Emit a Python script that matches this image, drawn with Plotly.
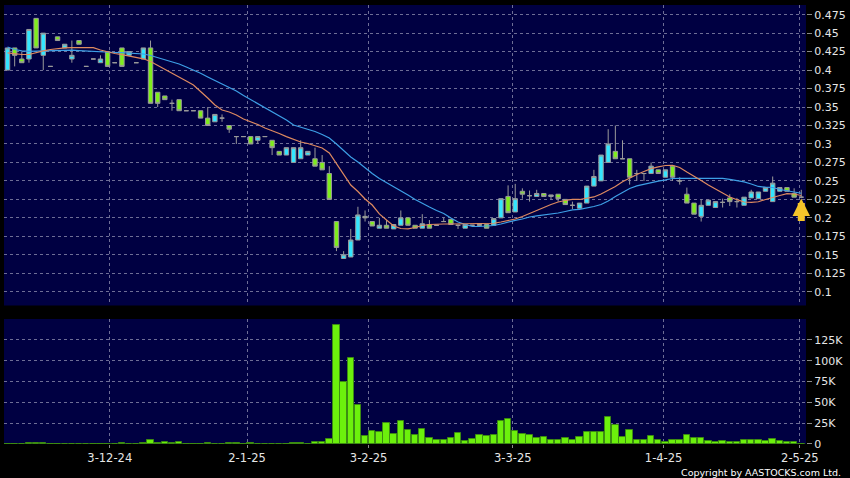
import plotly.graph_objects as go

# ---------------- data ----------------
opens = [0.40, 0.43, 0.415, 0.415, 0.47, 0.42, 0.405, 0.445, 0.43, 0.415,
         0.44, 0.405, 0.415, 0.41, 0.425, 0.41, 0.43, 0.42, 0.41, 0.415,
         0.43, 0.37, 0.365, 0.355, 0.36, 0.345, 0.345, 0.345, 0.335, 0.33,
         0.335, 0.325, 0.31, 0.31, 0.31, 0.305, 0.31, 0.305, 0.29, 0.285,
         0.275, 0.28, 0.285, 0.28, 0.275, 0.26, 0.195, 0.145, 0.147, 0.17,
         0.202, 0.195, 0.186, 0.19, 0.185, 0.19, 0.2, 0.19, 0.186, 0.191,
         0.19, 0.195, 0.198, 0.19, 0.186, 0.19, 0.191, 0.191, 0.19, 0.2,
         0.229, 0.208, 0.236, 0.23, 0.229, 0.233, 0.229, 0.232, 0.225, 0.217,
         0.213, 0.22, 0.243, 0.25, 0.275, 0.29, 0.28, 0.28, 0.26, 0.26,
         0.26, 0.265, 0.255, 0.27, 0.25, 0.232, 0.22, 0.202, 0.217, 0.214,
         0.221, 0.227, 0.222, 0.217, 0.227, 0.226, 0.236, 0.222, 0.236, 0.241,
         0.233, 0.228]
highs = [0.43, 0.43, 0.425, 0.455, 0.47, 0.45, 0.405, 0.445, 0.435, 0.44,
         0.44, 0.405, 0.415, 0.42, 0.425, 0.41, 0.43, 0.425, 0.41, 0.43,
         0.44, 0.37, 0.365, 0.36, 0.36, 0.345, 0.345, 0.345, 0.35, 0.34,
         0.34, 0.325, 0.31, 0.31, 0.31, 0.31, 0.31, 0.305, 0.29, 0.295,
         0.295, 0.305, 0.29, 0.295, 0.285, 0.27, 0.195, 0.155, 0.185, 0.215,
         0.21, 0.195, 0.2, 0.197, 0.191, 0.21, 0.2, 0.19, 0.205, 0.197,
         0.19, 0.2, 0.198, 0.19, 0.191, 0.19, 0.191, 0.191, 0.199, 0.226,
         0.244, 0.246, 0.24, 0.237, 0.238, 0.233, 0.231, 0.232, 0.225, 0.222,
         0.22, 0.243, 0.265, 0.285, 0.32, 0.325, 0.305, 0.28, 0.265, 0.26,
         0.275, 0.265, 0.265, 0.27, 0.255, 0.241, 0.22, 0.225, 0.224, 0.222,
         0.226, 0.232, 0.227, 0.228, 0.238, 0.235, 0.241, 0.256, 0.241, 0.241,
         0.24, 0.238]
lows = [0.40, 0.405, 0.41, 0.41, 0.43, 0.40, 0.405, 0.44, 0.43, 0.41,
        0.435, 0.405, 0.415, 0.41, 0.405, 0.41, 0.405, 0.42, 0.41, 0.415,
        0.355, 0.35, 0.36, 0.345, 0.345, 0.345, 0.345, 0.335, 0.325, 0.33,
        0.33, 0.315, 0.30, 0.31, 0.30, 0.30, 0.31, 0.285, 0.285, 0.285,
        0.275, 0.28, 0.285, 0.27, 0.265, 0.225, 0.155, 0.145, 0.147, 0.17,
        0.195, 0.189, 0.186, 0.186, 0.185, 0.19, 0.19, 0.186, 0.186, 0.186,
        0.19, 0.195, 0.191, 0.185, 0.186, 0.19, 0.19, 0.186, 0.19, 0.2,
        0.207, 0.208, 0.226, 0.222, 0.229, 0.229, 0.225, 0.222, 0.218, 0.212,
        0.213, 0.22, 0.243, 0.25, 0.275, 0.28, 0.28, 0.245, 0.25, 0.25,
        0.26, 0.26, 0.255, 0.25, 0.245, 0.22, 0.205, 0.195, 0.217, 0.214,
        0.214, 0.216, 0.214, 0.217, 0.227, 0.226, 0.236, 0.222, 0.236, 0.236,
        0.228, 0.228]
closes = [0.43, 0.42, 0.41, 0.455, 0.43, 0.45, 0.405, 0.44, 0.435, 0.42,
          0.435, 0.405, 0.415, 0.415, 0.405, 0.41, 0.405, 0.425, 0.41, 0.43,
          0.355, 0.355, 0.36, 0.355, 0.345, 0.345, 0.345, 0.335, 0.325, 0.34,
          0.335, 0.32, 0.31, 0.31, 0.30, 0.31, 0.31, 0.295, 0.285, 0.295,
          0.295, 0.295, 0.29, 0.27, 0.265, 0.225, 0.16, 0.15, 0.17, 0.204,
          0.2, 0.189, 0.19, 0.186, 0.191, 0.2, 0.19, 0.186, 0.192, 0.186,
          0.19, 0.195, 0.191, 0.19, 0.191, 0.19, 0.19, 0.186, 0.199, 0.226,
          0.207, 0.226, 0.232, 0.23, 0.233, 0.229, 0.231, 0.226, 0.218, 0.217,
          0.22, 0.243, 0.256, 0.285, 0.30, 0.28, 0.28, 0.255, 0.26, 0.26,
          0.27, 0.26, 0.265, 0.255, 0.25, 0.22, 0.205, 0.217, 0.224, 0.222,
          0.221, 0.222, 0.222, 0.228, 0.235, 0.235, 0.241, 0.247, 0.241, 0.236,
          0.228, 0.228]
volumes = [300, 500, 300, 800, 600, 800, 0, 300, 300, 500,
           300, 0, 0, 300, 500, 0, 1000, 300, 0, 600,
           5300, 1200, 2000, 600, 1800, 0, 0, 500, 600, 400,
           300, 1500, 1500, 300, 800, 500, 300, 500, 500, 500,
           800, 600, 400, 2000, 2500, 6000, 143000, 74000, 103000, 46600,
           10000, 15300, 14000, 25000, 12500, 27400, 17300, 11300, 17700, 7700,
           5300, 5000, 6900, 13700, 3300, 5700, 11300, 10100, 10500, 27400,
           29400, 15700, 11700, 10900, 7700, 8400, 5000, 5300, 6900, 5300,
           8400, 14900, 14900, 14500, 31800, 23000, 8400, 16900, 5300, 4600,
           9300, 4600, 2300, 5300, 4200, 11300, 6900, 6900, 3700, 2300,
           3300, 2600, 2300, 4200, 4200, 4200, 3000, 5700, 3700, 2600,
           2600, 0]
ma_fast = [0.4232, 0.4218, 0.4211, 0.4211, 0.4238, 0.4259, 0.4279, 0.4295, 0.4302, 0.4303,
           0.4303, 0.4303, 0.4303, 0.4272, 0.4245, 0.4225, 0.4210, 0.4191, 0.4171, 0.4153,
           0.4117, 0.4062, 0.4012, 0.3961, 0.3907, 0.3853, 0.3799, 0.3717, 0.3623, 0.3528,
           0.3460, 0.3433, 0.3393, 0.3338, 0.3305, 0.3264, 0.3217, 0.3183, 0.3142, 0.3099,
           0.3061, 0.3027, 0.3007, 0.2980, 0.2946, 0.2878, 0.2736, 0.2594, 0.2445, 0.2357,
           0.2256, 0.2174, 0.2053, 0.1971, 0.1890, 0.1856, 0.1850, 0.1870, 0.1897, 0.1910,
           0.1917, 0.1917, 0.1917, 0.1917, 0.1917, 0.1917, 0.1917, 0.1920, 0.1927, 0.1944,
           0.1965, 0.1985, 0.2019, 0.2062, 0.2107, 0.2141, 0.2181, 0.2215, 0.2235, 0.2249,
           0.2249, 0.2262, 0.2283, 0.2323, 0.2371, 0.2425, 0.2490, 0.2540, 0.2587, 0.2628,
           0.2666, 0.2689, 0.2709, 0.2712, 0.2682, 0.2621, 0.2567, 0.2506, 0.2445, 0.2391,
           0.2333, 0.2283, 0.2246, 0.2215, 0.2211, 0.2218, 0.2249, 0.2279, 0.2303, 0.2327,
           0.2323, 0.2303]
ma_slow = [0.4313, 0.4279, 0.4259, 0.4252, 0.4256, 0.4259, 0.4266, 0.4268, 0.4272, 0.4270,
           0.4263, 0.4256, 0.4249, 0.4245, 0.4241, 0.4238, 0.4236, 0.4232, 0.4229, 0.4218,
           0.4198, 0.4171, 0.4144, 0.4117, 0.4083, 0.4042, 0.4002, 0.3957, 0.3907, 0.3859,
           0.3812, 0.3765, 0.3717, 0.3656, 0.3602, 0.3548, 0.3494, 0.3440, 0.3386, 0.3325,
           0.3257, 0.3230, 0.3203, 0.3169, 0.3129, 0.3081, 0.3000, 0.2912, 0.2824, 0.2756,
           0.2675, 0.2601, 0.2533, 0.2479, 0.2425, 0.2371, 0.2310, 0.2249, 0.2195, 0.2147,
           0.2100, 0.2059, 0.1998, 0.1944, 0.1910, 0.1886, 0.1883, 0.1885, 0.1897, 0.1917,
           0.1944, 0.1967, 0.1985, 0.2012, 0.2028, 0.2039, 0.2048, 0.2066, 0.2086, 0.2107,
           0.2116, 0.2134, 0.2154, 0.2181, 0.2229, 0.2289, 0.2344, 0.2398, 0.2432, 0.2455,
           0.2475, 0.2497, 0.2513, 0.2533, 0.2536, 0.2536, 0.2536, 0.2536, 0.2536, 0.2536,
           0.2534, 0.2520, 0.2506, 0.2486, 0.2459, 0.2425, 0.2415, 0.2411, 0.2384, 0.2364,
           0.2346, 0.2333]

date_tick_pos = [14.3, 33.5, 50.5, 70.65, 91.75, 110.8]
date_tick_labels = ["3-12-24", "2-1-25", "3-2-25", "3-3-25", "1-4-25", "2-5-25"]
price_ticks = [0.1, 0.125, 0.15, 0.175, 0.2, 0.225, 0.25, 0.275, 0.3,
               0.325, 0.35, 0.375, 0.4, 0.425, 0.45, 0.475]
price_tick_labels = ["0.1", "0.125", "0.15", "0.175", "0.2", "0.225", "0.25", "0.275", "0.3",
                     "0.325", "0.35", "0.375", "0.4", "0.425", "0.45", "0.475"]
vol_ticks = [0, 25000, 50000, 75000, 100000, 125000]
vol_tick_labels = ["0", "25K", "50K", "75K", "100K", "125K"]

idx = list(range(len(closes)))

# ---------------- styles ----------------
FONT = "DejaVu Sans"
TXT = "#e6e6e6"
GRID = "#6e6e96"
TICKC = "#8a8a8a"

fig = go.Figure()
fig.add_trace(go.Candlestick(
    x=idx, open=opens, high=highs, low=lows, close=closes,
    xaxis="x", yaxis="y", whiskerwidth=0,
    increasing=dict(fillcolor="#33e6ff", line=dict(color="#9a9a9a", width=1)),
    decreasing=dict(fillcolor="#7fee1c", line=dict(color="#9a9a9a", width=1)),
    hoverinfo="skip", showlegend=False))
fig.add_trace(go.Scatter(x=idx, y=ma_slow, mode="lines", xaxis="x", yaxis="y",
                         line=dict(color="#3d9fe6", width=1.2), hoverinfo="skip", showlegend=False))
fig.add_trace(go.Scatter(x=idx, y=ma_fast, mode="lines", xaxis="x", yaxis="y",
                         line=dict(color="#de8a60", width=1.2), hoverinfo="skip", showlegend=False))
fig.add_trace(go.Bar(x=idx, y=volumes, xaxis="x2", yaxis="y2", width=0.9,
                     marker=dict(color="#6cf00c", line=dict(color="#3c8c12", width=1)),
                     hoverinfo="skip", showlegend=False))

xr = [-0.49, 111.66]
common_x = dict(range=xr, tickmode="array", tickvals=date_tick_pos, showgrid=True,
                gridcolor=GRID, griddash="3px,3px", gridwidth=1, zeroline=False,
                showline=False, fixedrange=True)

fig.update_layout(
    width=850, height=478, autosize=False,
    paper_bgcolor="#000000", plot_bgcolor="#000042",
    margin=dict(l=4, r=42, t=5, b=34),
    boxgap=0.12,
    bargap=0,
    showlegend=False,
    font=dict(family=FONT, color=TXT, size=11),
    xaxis=dict(common_x, anchor="y", domain=[0, 1], showticklabels=False, ticks="",
               rangeslider=dict(visible=False)),
    xaxis2=dict(common_x, anchor="y2", domain=[0, 1], ticktext=date_tick_labels,
                showticklabels=True, ticks="outside", ticklen=3, tickcolor=TICKC,
                tickfont=dict(family=FONT, size=11.5, color=TXT)),
    yaxis=dict(domain=[0.3155, 1], anchor="x", side="right", range=[0.0814, 0.4881],
               tickmode="array", tickvals=price_ticks, ticktext=price_tick_labels,
               ticks="outside", ticklen=5, tickcolor=TICKC, showgrid=True,
               gridcolor=GRID, griddash="3px,3px", zeroline=False, showline=False,
               tickfont=dict(family=FONT, size=11, color=TXT), fixedrange=True),
    yaxis2=dict(domain=[0, 0.2847], anchor="x2", side="right", range=[0, 150000],
                tickmode="array", tickvals=vol_ticks, ticktext=vol_tick_labels,
                ticks="outside", ticklen=5, tickcolor=TICKC, showgrid=True,
                gridcolor=GRID, griddash="3px,3px", zeroline=False, showline=False,
                tickfont=dict(family=FONT, size=11, color=TXT), fixedrange=True),
)

# last-price marker arrow
fig.add_annotation(x=idx[-1], y=0.2262, xref="x", yref="y", ax=0, ay=24,
                   text="", showarrow=True, arrowhead=2, arrowsize=0.5,
                   arrowwidth=7, arrowcolor="#f5c42a", standoff=0)

fig.add_annotation(x=1.0464, y=-0.066, xref="paper", yref="paper",
                   xanchor="right", yanchor="middle", showarrow=False,
                   text="Copyright by AASTOCKS.com Ltd.",
                   font=dict(family=FONT, size=9.5, color="#ffffff"))

fig.write_html("out.html", config={"displayModeBar": False},
               post_script="document.body.style.margin='0';document.body.style.padding='0';"
                           "document.body.style.overflow='hidden';")
